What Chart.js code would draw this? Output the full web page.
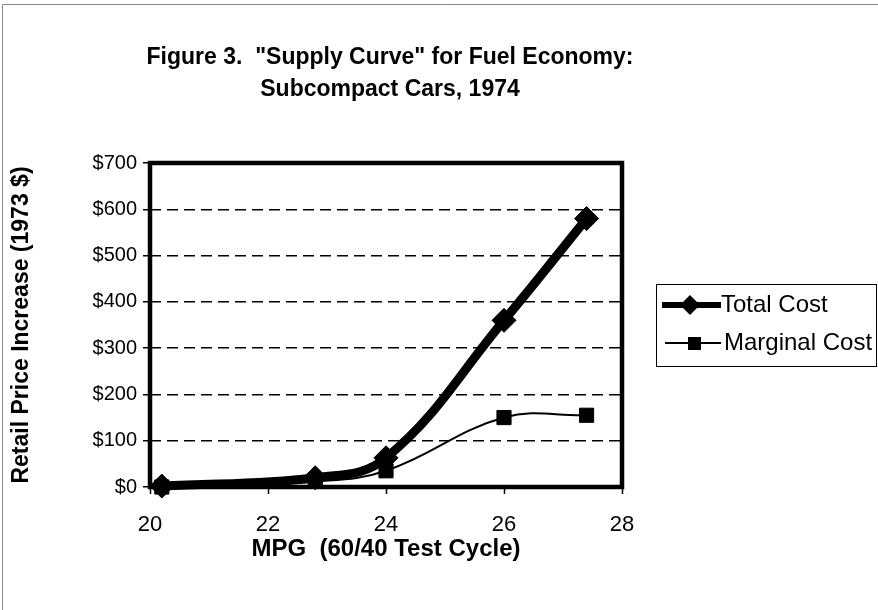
<!DOCTYPE html>
<html>
<head>
<meta charset="utf-8">
<script src="https://cdn.jsdelivr.net/npm/chart.js@4"></script>
<style>
  html, body { margin: 0; padding: 0; background: #fff; }
  #wrap { width: 878px; height: 610px; position: relative; }
</style>
</head>
<body>
<div id="wrap"><canvas id="supplyChart" width="878" height="610"></canvas></div>
<script>
// values
const mpg = [20.2, 22.8, 24, 26, 27.4];
const totalCost = [2, 20, 63, 360, 580];
const marginalCost = [0, 12, 35, 150, 155];
const seriesNames = ['Total Cost', 'Marginal Cost'];
const titleLines = ['Figure 3.  "Supply Curve" for Fuel Economy:', 'Subcompact Cars, 1974'];
const xTitle = 'MPG  (60/40 Test Cycle)';
const yTitle = 'Retail Price Increase (1973 $)';

const FONT = "'Liberation Sans', Arial, sans-serif";

const toPoints = (xs, ys) => xs.map((x, i) => ({ x: x, y: ys[i] }));

// page frame, plot frame, title
const framePlugin = {
    id: 'framePlugin',
    beforeDraw(chart) {
        const ctx = chart.ctx;
        ctx.save();
        ctx.fillStyle = '#fff';
        ctx.fillRect(0, 0, chart.width, chart.height);
        ctx.strokeStyle = '#8a8a8a';
        ctx.lineWidth = 1;
        ctx.beginPath();
        ctx.moveTo(2.5, chart.height);
        ctx.lineTo(2.5, 4.5);
        ctx.lineTo(chart.width, 4.5);
        ctx.stroke();

        ctx.fillStyle = '#000';
        ctx.font = 'bold 23px ' + FONT;
        ctx.textAlign = 'center';
        ctx.textBaseline = 'middle';
        ctx.fillText(titleLines[0], 390, 58);
        ctx.fillText(titleLines[1], 390, 90);
        ctx.restore();
    },
    beforeDatasetsDraw(chart) {
        const a = chart.chartArea;
        const ctx = chart.ctx;
        ctx.save();
        ctx.strokeStyle = '#000';
        ctx.lineWidth = 4.5;
        ctx.strokeRect(a.left, a.top, a.right - a.left, a.bottom - a.top);
        ctx.restore();
    }
};

// legend drawn like the spreadsheet one: line sample with marker in the middle
const legendPlugin = {
    id: 'legendPlugin',
    afterDraw(chart) {
        const ctx = chart.ctx;
        ctx.save();
        ctx.strokeStyle = '#000';
        ctx.lineWidth = 1;
        ctx.strokeRect(656.5, 284.5, 220, 82);

        // Total Cost
        ctx.lineWidth = 6;
        ctx.beginPath();
        ctx.moveTo(662, 305);
        ctx.lineTo(721, 305);
        ctx.stroke();
        ctx.fillStyle = '#000';
        ctx.beginPath();
        ctx.moveTo(690, 295);
        ctx.lineTo(700, 305);
        ctx.lineTo(690, 315);
        ctx.lineTo(680, 305);
        ctx.closePath();
        ctx.fill();

        // Marginal Cost
        ctx.lineWidth = 2;
        ctx.beginPath();
        ctx.moveTo(665, 343);
        ctx.lineTo(721, 343);
        ctx.stroke();
        ctx.fillRect(688, 337, 13, 13);

        ctx.font = '24px ' + FONT;
        ctx.textAlign = 'left';
        ctx.textBaseline = 'middle';
        ctx.fillText(seriesNames[0], 721, 305);
        ctx.fillText(seriesNames[1], 724, 343);
        ctx.restore();
    }
};

const ctx = document.getElementById('supplyChart').getContext('2d');
new Chart(ctx, {
    type: 'line',
    data: {
        datasets: [{
            label: seriesNames[0],
            data: toPoints(mpg, totalCost),
            borderColor: '#000',
            backgroundColor: '#000',
            borderWidth: 9,
            tension: 0.4,
            pointStyle: 'rectRot',
            pointRadius: 12,
            pointBorderWidth: 1,
            clip: false
        }, {
            label: seriesNames[1],
            data: toPoints(mpg, marginalCost),
            borderColor: '#000',
            backgroundColor: '#000',
            borderWidth: 2,
            tension: 0.4,
            pointStyle: 'rect',
            pointRadius: 10,
            pointBorderWidth: 1,
            clip: false
        }]
    },
    options: {
        responsive: false,
        animation: false,
        layout: { padding: { left: 0, top: 163, right: 256, bottom: 0 } },
        scales: {
            x: {
                type: 'linear',
                min: 20,
                max: 28,
                afterFit(scale) { scale.height = 123; },
                ticks: {
                    stepSize: 2,
                    color: '#000',
                    padding: 18,
                    font: { family: FONT, size: 22 }
                },
                grid: {
                    drawOnChartArea: false,
                    drawTicks: true,
                    tickLength: 7,
                    tickColor: '#000',
                    tickWidth: 1.5
                },
                border: { display: false },
                title: {
                    display: true,
                    text: xTitle,
                    color: '#000',
                    padding: { top: 0, bottom: 46 },
                    font: { family: FONT, size: 24, weight: 'bold' }
                }
            },
            y: {
                min: 0,
                max: 700,
                afterFit(scale) { scale.width = 150; },
                ticks: {
                    stepSize: 100,
                    color: '#000',
                    padding: 6,
                    font: { family: FONT, size: 20 },
                    callback: v => '$' + v
                },
                grid: {
                    color: '#000',
                    lineWidth: 1.5,
                    tickLength: 7,
                    tickColor: '#000',
                    tickWidth: 1.5,
                    tickBorderDash: []
                },
                border: { display: false, dash: [11, 6] },
                title: {
                    display: true,
                    text: yTitle,
                    color: '#000',
                    padding: { top: 8, bottom: 0 },
                    font: { family: FONT, size: 23, weight: 'bold' }
                }
            }
        },
        plugins: {
            legend: { display: false },
            title: { display: false },
            tooltip: { enabled: false }
        }
    },
    plugins: [framePlugin, legendPlugin]
});
</script>
</body>
</html>
